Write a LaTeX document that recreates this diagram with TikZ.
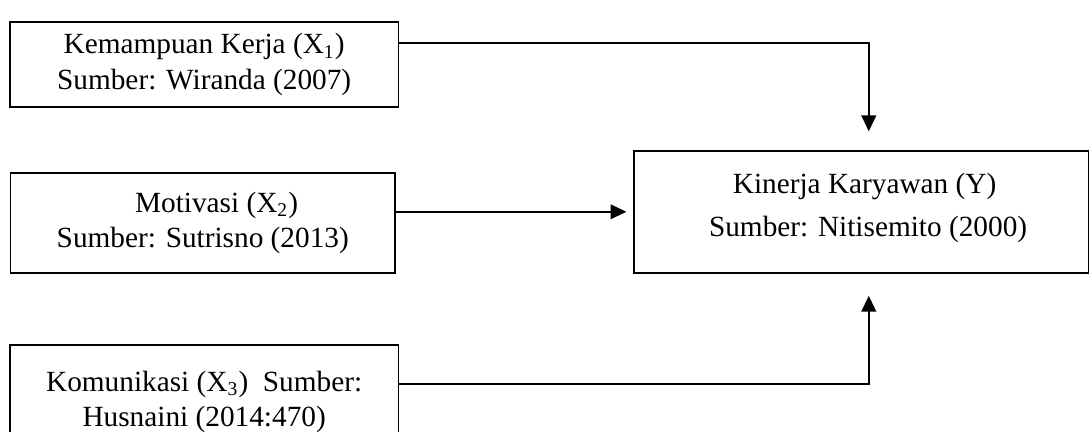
\documentclass[tikz,border=0pt]{standalone}
\usepackage{fontspec}
\setmainfont{Liberation Serif}
\usepackage{tikz}
\usetikzlibrary{arrows.meta,calc,positioning}

\begin{document}
\begin{tikzpicture}[
    kotak/.style={draw, line width=0.6pt, align=center, inner sep=0pt,
      font=\fontsize{12}{14.5}\selectfont},
    panah/.style={line width=0.75pt, -{Triangle[length=6.5pt,width=6pt]}}
  ]
      % Page size
      \useasboundingbox (0,0) rectangle (15.71,6.22);
      % Title (cut off at the top)
      \node[anchor=base, font=\fontsize{12}{14.5}\selectfont\bfseries] (judul) at (9.65,6.32) {Kerangka Konseptual};
      % Variable boxes
      \node[kotak, minimum width=5.59cm, minimum height=1.22cm] (x1) at (2.94,5.29)
        {Kemampuan Kerja (X\textsubscript{1})\\Sumber: Wiranda (2007)};
      \node[kotak, minimum width=5.54cm, minimum height=1.44cm] (x2) at (2.92,3.01)
        {\hspace*{0.4cm}Motivasi (X\textsubscript{2})\\Sumber: Sutrisno (2013)};
      \node[kotak, minimum width=5.59cm, minimum height=1.8cm] (x3) at (2.94,0.35)
        {Komunikasi (X\textsubscript{3})~~Sumber:\\Husnaini (2014:470)\rule[-0.26cm]{0pt}{0pt}};
      \node[kotak, minimum width=6.54cm, minimum height=1.757cm] (y) at (12.40,3.17)
        {\hspace*{0.1cm}Kinerja Karyawan (Y)\\[3.5pt]\hspace*{0.2cm}Sumber: Nitisemito (2000)\rule[-0.2cm]{0pt}{0pt}};
      % Bend points
      \coordinate (siku1) at (12.51,5.60);
      \coordinate (siku3) at (12.51,0.69);
      % Arrows
      \draw[panah, shorten >=0.27cm] (x1.east |- siku1) -- (siku1) -- (siku1 |- y.north);
      \draw[panah, shorten >=0.1cm] (x2.east |- y.west) -- (y.west);
      \draw[panah, shorten >=0.32cm] (x3.east |- siku3) -- (siku3) -- (siku3 |- y.south);
    \end{tikzpicture}
\end{document}
